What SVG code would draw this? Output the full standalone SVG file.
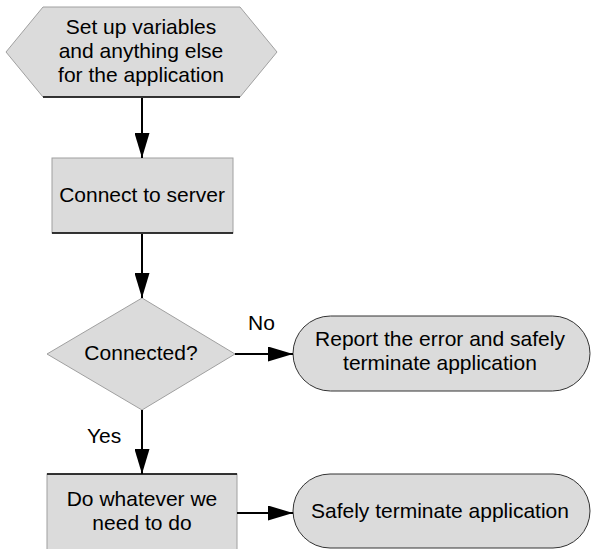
<svg xmlns="http://www.w3.org/2000/svg" width="591" height="549" viewBox="0 0 591 549">
<defs>
<style>
text{font-family:"Liberation Sans",Arial,sans-serif;font-size:21px;fill:#000;text-anchor:middle}
.shape{fill:#dbdbdb;stroke:#a0a0a0;stroke-width:1}
.term{fill:#dbdbdb;stroke:#333;stroke-width:1}
.edge{stroke:#000;stroke-width:1.5}
.conn{stroke:#000;stroke-width:2;fill:none;marker-end:url(#arr)}
.lbl{text-anchor:start}
</style>
<marker id="arr" viewBox="0 0 25 15" refX="25" refY="7.5" markerWidth="25" markerHeight="15" markerUnits="userSpaceOnUse" orient="auto">
<path d="M0,0 L25,7.5 L0,15 Z" fill="#000"/>
</marker>
</defs>
<rect width="591" height="549" fill="#fff"/>
<g id="setup">
<polygon class="shape" points="43,7 240,7 277,52 240,97 43,97 6,52"/>
<line class="edge" x1="43" y1="97" x2="240" y2="97"/>
<text x="141" y="33.5">Set up variables</text>
<text x="141" y="57.5">and anything else</text>
<text x="141" y="81.5">for the application</text>
</g>
<g id="connect">
<rect class="shape" x="52" y="158" width="181" height="75"/>
<line class="edge" x1="52" y1="233" x2="233" y2="233"/>
<text x="142" y="202">Connect to server</text>
</g>
<g id="decision">
<polygon class="shape" points="142,298 235,354 142,410 47,354"/>
<text x="141" y="360">Connected?</text>
</g>
<g id="report">
<rect class="term" x="293" y="316" width="297" height="75" rx="37.5" ry="37.5"/>
<text x="440" y="346">Report the error and safely</text>
<text x="440" y="370">terminate application</text>
</g>
<g id="work">
<rect class="shape" x="47" y="474" width="190" height="90"/>
<line class="edge" x1="47" y1="474" x2="237" y2="474"/>
<text x="142" y="506">Do whatever we</text>
<text x="142" y="530">need to do</text>
</g>
<g id="terminate">
<rect class="term" x="293" y="474" width="297" height="74" rx="37" ry="37"/>
<text x="440" y="518">Safely terminate application</text>
</g>
<g id="connectors">
<line class="conn" x1="142" y1="98" x2="142" y2="158"/>
<line class="conn" x1="142" y1="234" x2="142" y2="298"/>
<line class="conn" x1="235" y1="354" x2="293" y2="354"/>
<line class="conn" x1="142" y1="410" x2="142" y2="474"/>
<line class="conn" x1="237" y1="513" x2="293" y2="513"/>
<text class="lbl" x="248" y="330">No</text>
<text class="lbl" x="87" y="443">Yes</text>
</g>
</svg>
